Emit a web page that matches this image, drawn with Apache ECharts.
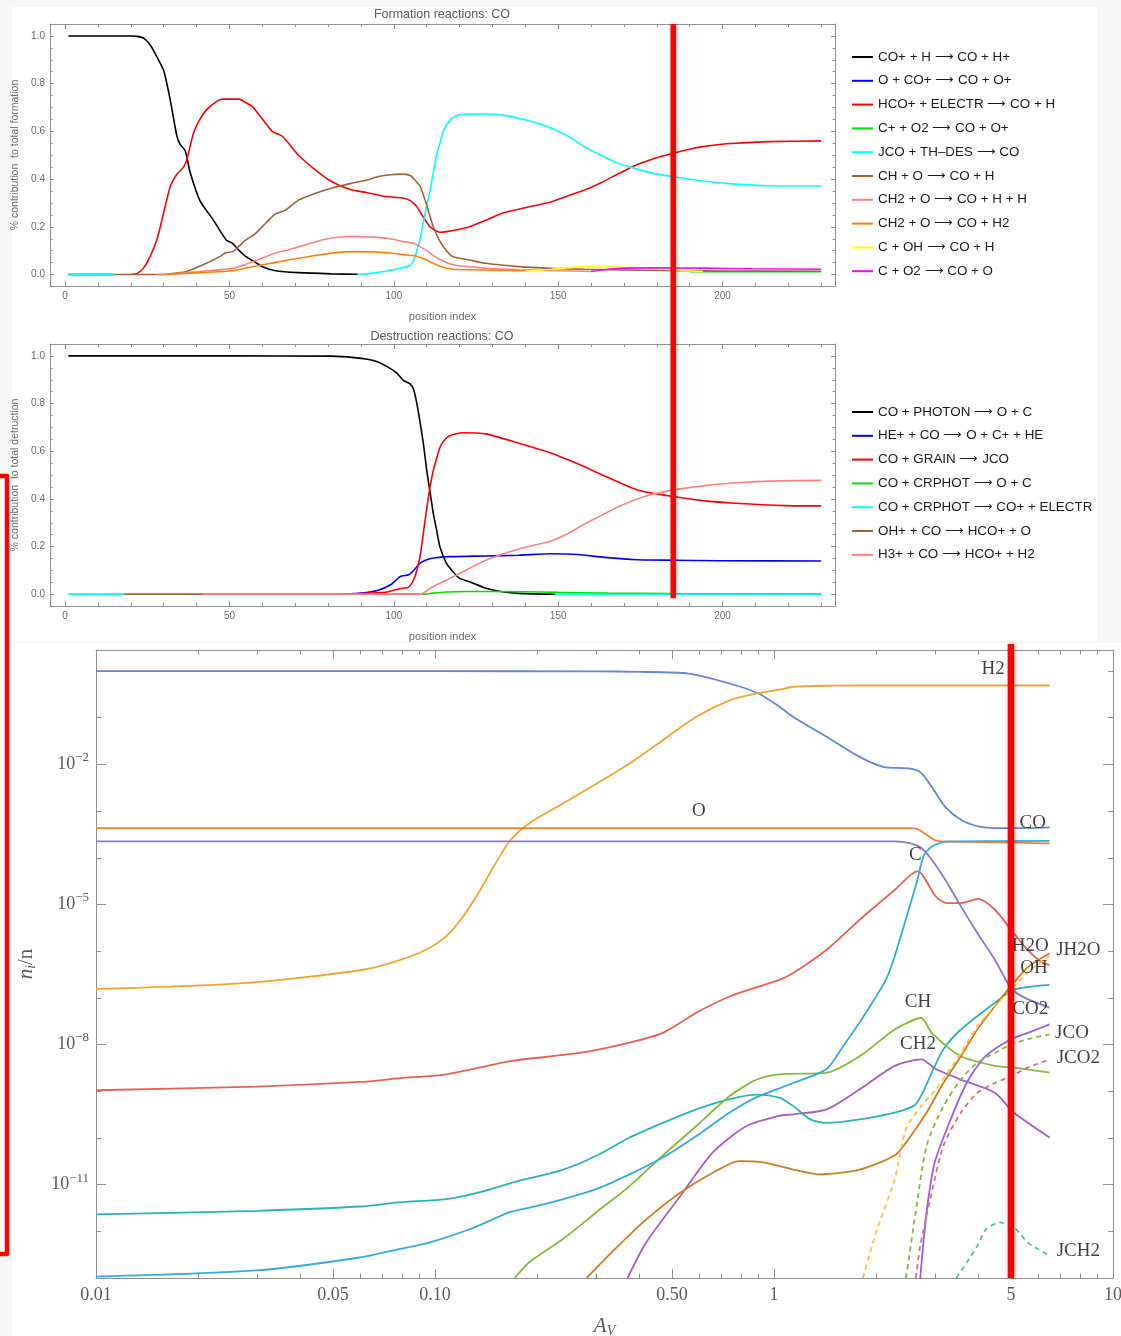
<!DOCTYPE html>
<html>
<head>
<meta charset="utf-8">
<script src="https://cdn.jsdelivr.net/npm/echarts@6/dist/echarts.min.js"></script>
<style>
html, body { margin: 0; padding: 0; background: #f7f7f7; }
#main { width: 1121px; height: 1336px; }
</style>
</head>
<body>
<div id="main"></div>
<script>
// ---------- formation reactions (position index, fraction) ----------
var fmNames = [
  'CO+ + H \u27F6 CO + H+', 'O + CO+ \u27F6 CO + O+', 'HCO+ + ELECTR \u27F6 CO + H',
  'C+ + O2 \u27F6 CO + O+', 'JCO + TH\u2013DES \u27F6 CO', 'CH + O \u27F6 CO + H',
  'CH2 + O \u27F6 CO + H + H', 'CH2 + O \u27F6 CO + H2', 'C + OH \u27F6 CO + H', 'C + O2 \u27F6 CO + O'
];
var fmBlack = [[1,1],[10,1],[20,1],[22,0.998],[24,0.99],[26,0.96],[28,0.91],[30,0.855],[32,0.73],[34,0.58],[35,0.545],[36.5,0.52],[38,0.43],[41,0.31],[45,0.23],[49,0.145],[51,0.13],[53,0.1],[55,0.075],[58,0.05],[60,0.033],[64,0.016],[71,0.008],[81,0.003],[89,0.001]];
var fmBlue = [[1,0],[15,0]];
var fmRed = [[20,0],[22,0.005],[24,0.03],[26,0.08],[28,0.15],[30,0.26],[32,0.37],[34,0.42],[36,0.45],[37,0.48],[39,0.59],[41,0.65],[43,0.69],[46,0.725],[48,0.735],[53,0.735],[55,0.72],[57,0.704],[59,0.67],[61,0.634],[63,0.6],[64.5,0.59],[66,0.58],[68,0.55],[71,0.5],[76,0.44],[81,0.39],[87,0.355],[92,0.343],[97,0.328],[103,0.32],[105,0.31],[107,0.284],[109,0.24],[111,0.2],[114,0.177],[116,0.18],[120,0.19],[123,0.2],[128,0.228],[133,0.257],[140,0.28],[148,0.305],[153,0.33],[158,0.354],[163,0.385],[168,0.42],[173,0.455],[179,0.485],[185,0.508],[190,0.525],[194,0.536],[199,0.545],[204,0.55],[214,0.557],[230,0.56]];
var fmGreen = [[1,0],[15,0],[16,null],[190,0.012],[230,0.012]];
var fmCyan = [[1,0],[15,0],[16,null],[89,0],[93,0.005],[97,0.013],[102,0.026],[105,0.04],[106,0.06],[107,0.1],[108,0.15],[109,0.22],[110,0.29],[111,0.35],[112,0.43],[113,0.5],[114,0.55],[115,0.6],[117,0.645],[119,0.665],[121,0.672],[128,0.673],[133,0.668],[138,0.655],[143,0.637],[148,0.613],[153,0.58],[158,0.536],[163,0.5],[168,0.468],[173,0.446],[179,0.424],[185,0.41],[194,0.392],[204,0.379],[214,0.372],[230,0.371]];
var fmBrown = [[15,0],[30,0],[33,0.005],[37,0.013],[43,0.047],[47,0.075],[49,0.092],[51,0.096],[53,0.12],[55,0.145],[58,0.173],[61,0.215],[64,0.254],[67,0.27],[71,0.312],[76,0.34],[81,0.362],[87,0.382],[92,0.396],[95,0.41],[99,0.418],[102,0.421],[105,0.415],[106.5,0.395],[108,0.37],[110,0.29],[112,0.2],[114,0.14],[116,0.1],[118,0.075],[123,0.061],[128,0.047],[138,0.033],[148,0.026],[158,0.022],[175,0.018],[200,0.015],[230,0.014]];
var fmPink = [[28,0],[33,0.003],[41,0.013],[51,0.026],[57,0.054],[61,0.075],[64,0.09],[68,0.104],[73,0.124],[78,0.145],[83,0.156],[88,0.16],[93,0.157],[98,0.152],[103,0.138],[106,0.131],[108,0.117],[110,0.1],[112,0.08],[114,0.063],[117,0.045],[120,0.037],[123,0.033],[128,0.026],[138,0.02],[150,0.016],[160,0.013]];
var fmOrange = [[31,0],[41,0.008],[51,0.016],[57,0.033],[64,0.051],[71,0.068],[77,0.082],[83,0.093],[88,0.096],[94,0.095],[99,0.09],[104,0.082],[107,0.077],[109,0.066],[111,0.054],[114,0.035],[118,0.022],[123,0.02],[130,0.018],[140,0.016]];
var fmYellow = [[140,0.014],[148,0.022],[153,0.028],[158,0.033],[168,0.031],[179,0.025],[187,0.018],[194,0.013]];
var fmMagenta = [[160,0.013],[164,0.02],[169,0.026],[179,0.028],[194,0.027],[209,0.024],[230,0.022]];

// ---------- destruction reactions ----------
var dsNames = [
  'CO + PHOTON \u27F6 O + C', 'HE+ + CO \u27F6 O + C+ + HE', 'CO + GRAIN \u27F6 JCO',
  'CO + CRPHOT \u27F6 O + C', 'CO + CRPHOT \u27F6 CO+ + ELECTR', 'OH+ + CO \u27F6 HCO+ + O',
  'H3+ + CO \u27F6 HCO+ + H2'
];
var dsBlack = [[1,1],[50,1],[81,0.999],[88,0.993],[92,0.986],[95,0.976],[98,0.955],[101,0.927],[103,0.896],[105,0.882],[106,0.86],[107,0.8],[108,0.72],[109,0.63],[110,0.52],[111,0.43],[112,0.34],[113,0.27],[114,0.2],[116,0.13],[118,0.095],[120,0.067],[123,0.053],[128,0.025],[133,0.011],[138,0.004],[149,0]];
var dsBlue = [[85,0],[90,0.005],[95,0.016],[99,0.04],[102,0.075],[104.5,0.082],[106,0.1],[108,0.131],[110,0.145],[112,0.152],[117,0.158],[128,0.161],[138,0.164],[148,0.17],[156,0.167],[164,0.155],[174,0.145],[185,0.143],[199,0.141],[230,0.14]];
var dsRed = [[85,0],[92,0.005],[98,0.01],[102,0.024],[104.5,0.03],[106,0.06],[107,0.1],[108,0.16],[109,0.26],[110,0.36],[111,0.45],[112,0.52],[113,0.57],[114,0.615],[115,0.64],[117,0.665],[121,0.678],[128,0.673],[138,0.634],[148,0.592],[153,0.564],[158,0.535],[164,0.497],[174,0.438],[185,0.41],[194,0.393],[204,0.382],[219,0.372],[230,0.371]];
var dsGreen = [[1,0],[108,0],[112,0.005],[116,0.01],[122,0.012],[140,0.011],[150,0.008],[165,0.005],[185,0.003],[230,0.002]];
var dsCyan = [[1,0],[18,0],[19,null],[149,0],[230,0]];
var dsBrown = [[18,0],[108,0]];
var dsPink = [[42,0],[108,0],[110,0.015],[112,0.033],[117,0.067],[122,0.102],[128,0.143],[138,0.19],[148,0.225],[153,0.255],[158,0.295],[163,0.33],[168,0.365],[173,0.395],[179,0.421],[185,0.438],[194,0.455],[204,0.468],[214,0.475],[230,0.478]];

var posMajor = [0, 50, 100, 150, 200];
var posMinor = [10, 20, 30, 40, 60, 70, 80, 90, 110, 120, 130, 140, 160, 170, 180, 190, 210, 220, 230];
var fracMajor = [0, 0.2, 0.4, 0.6, 0.8, 1.0];
var fracMinor = [0.05, 0.1, 0.15, 0.25, 0.3, 0.35, 0.45, 0.5, 0.55, 0.65, 0.7, 0.75, 0.85, 0.9, 0.95];
var cutPosition = 185;

// ---------- abundances n_i/n against A_V ----------
var avH   = [0.01, 0.1, 0.3, 0.4, 0.56, 0.74, 0.9, 1.04, 1.14, 1.43, 1.79, 2.1, 2.53, 2.72, 2.92, 3.2, 3.56, 4.0, 4.5, 5.0, 6.5];
var nH    = [0.99, 0.99, 0.985, 0.96, 0.88, 0.54, 0.33, 0.17, 0.104, 0.039, 0.0145, 8.9e-3, 8.1e-3, 6.5e-3, 3.3e-3, 1.23e-3, 6.5e-4, 4.7e-4, 4.3e-4, 4.3e-4, 4.5e-4];
var avH2  = [0.01, 0.028, 0.0615, 0.079, 0.094, 0.108, 0.121, 0.136, 0.149, 0.167, 0.19, 0.239, 0.30, 0.375, 0.47, 0.59, 0.74, 0.89, 1.04, 1.14, 1.5, 2.0, 6.5];
var nH2   = [1.55e-7, 2.1e-7, 4.0e-7, 6.5e-7, 1.07e-6, 2.1e-6, 5.5e-6, 2.04e-5, 6.5e-5, 2.4e-4, 5.5e-4, 1.47e-3, 3.9e-3, 0.0105, 0.033, 0.105, 0.235, 0.33, 0.40, 0.46, 0.485, 0.49, 0.49];
var avO   = [0.01, 2.5, 2.65, 2.77, 2.98, 3.3, 3.56, 6.5];
var nO    = [4.3e-4, 4.3e-4, 4.1e-4, 3.4e-4, 2.4e-4, 2.2e-4, 2.2e-4, 2.04e-4];
var avC   = [0.01, 2.27, 2.53, 2.72, 2.92, 3.2, 3.56, 3.98, 4.48, 5.0, 5.5, 6.5];
var nC    = [2.25e-4, 2.25e-4, 2.04e-4, 1.62e-4, 9.1e-5, 3.4e-5, 9.1e-6, 2.45e-6, 6.6e-7, 1.62e-7, 1.0e-7, 6.2e-8];
var avCO  = [0.01, 0.0298, 0.06, 0.079, 0.0967, 0.127, 0.167, 0.19, 0.239, 0.30, 0.375, 0.47, 0.59, 0.74, 0.89, 1.14, 1.43, 1.6, 1.79, 2.0, 2.14, 2.27, 2.48, 2.65, 2.76, 2.92, 3.24, 6.5];
var nCO   = [1.07e-13, 1.45e-13, 2.75e-13, 4.2e-13, 5.8e-13, 1.12e-12, 2.6e-12, 3.2e-12, 4.9e-12, 8.1e-12, 1.66e-11, 3.8e-11, 1.1e-10, 3.5e-10, 7.5e-10, 1.5e-9, 3.0e-9, 9.3e-9, 3.0e-8, 1.07e-7, 2.45e-7, 7.8e-7, 6.6e-6, 3.4e-5, 1.07e-4, 1.74e-4, 2.24e-4, 2.3e-4];
var avOH  = [0.01, 0.0298, 0.06, 0.079, 0.108, 0.17, 0.267, 0.375, 0.47, 0.59, 0.74, 0.91, 1.04, 1.14, 1.43, 1.79, 2.27, 2.65, 2.76, 3.0, 3.24, 3.56, 4.0, 4.48, 5.0, 5.6, 6.2, 6.5];
var nOH   = [1.05e-9, 1.26e-9, 1.58e-9, 1.9e-9, 2.3e-9, 4.5e-9, 6.6e-9, 1.1e-8, 1.78e-8, 4.8e-8, 1.07e-7, 1.78e-7, 2.45e-7, 3.4e-7, 1.07e-6, 4.7e-6, 2.04e-5, 5.1e-5, 4.0e-5, 1.48e-5, 1.07e-5, 1.07e-5, 1.32e-5, 7.8e-6, 2.9e-6, 1.07e-6, 5.6e-7, 5.1e-7];
var avCO2 = [0.01, 0.0298, 0.06, 0.079, 0.108, 0.135, 0.17, 0.239, 0.30, 0.375, 0.47, 0.59, 0.74, 0.89, 1.04, 1.14, 1.28, 1.43, 1.79, 2.27, 2.6, 2.76, 2.92, 3.16, 3.56, 4.48, 5.1, 6.5];
var nCO2  = [2.3e-12, 2.75e-12, 3.4e-12, 4.2e-12, 4.9e-12, 6.8e-12, 1.12e-11, 2.1e-11, 4.2e-11, 1.02e-10, 2.1e-10, 4.1e-10, 6.8e-10, 8.5e-10, 7.2e-10, 4.8e-10, 2.5e-10, 2.1e-10, 2.5e-10, 3.5e-10, 5.0e-10, 1.0e-9, 2.5e-9, 7.9e-9, 2.1e-8, 7.8e-8, 1.5e-7, 1.9e-7];
var avCH  = [0.172, 0.19, 0.239, 0.30, 0.375, 0.47, 0.59, 0.74, 0.89, 1.04, 1.43, 1.79, 2.27, 2.72, 2.92, 3.56, 4.48, 5.1, 6.5];
var nCH   = [1e-13, 2.2e-13, 6.9e-13, 2.6e-12, 9.3e-12, 4.2e-11, 1.8e-10, 7.9e-10, 1.78e-9, 2.3e-9, 2.5e-9, 5.6e-9, 2.1e-8, 3.7e-8, 1.78e-8, 5.6e-9, 3.5e-9, 3.2e-9, 2.5e-9];
var avCH2 = [0.37, 0.42, 0.53, 0.66, 0.83, 1.04, 1.14, 1.43, 1.79, 2.27, 2.72, 3.0, 3.56, 4.48, 5.1, 6.5];
var nCH2  = [1e-13, 5.8e-13, 5.8e-12, 4.9e-11, 1.8e-10, 3.0e-10, 3.2e-10, 4.1e-10, 1.1e-9, 3.5e-9, 4.8e-9, 3.0e-9, 1.78e-9, 9.3e-10, 3.5e-10, 1.02e-10];
var avH2O = [0.28, 0.34, 0.42, 0.53, 0.66, 0.79, 0.93, 1.14, 1.36, 1.79, 2.27, 2.45, 2.82, 3.16, 3.56, 3.98, 4.48, 5.0, 5.6, 6.5];
var nH2O  = [1e-13, 4.2e-13, 1.8e-12, 6.8e-12, 1.8e-11, 3.2e-11, 3.0e-11, 2.1e-11, 1.66e-11, 2.1e-11, 4.2e-11, 7.9e-11, 3.5e-10, 1.5e-9, 5.6e-9, 2.1e-8, 6.6e-8, 1.78e-7, 4.5e-7, 9e-7];
var avHCO = [2.7, 2.82, 2.98, 3.32, 3.7, 4.2, 5.0, 5.6, 6.5];
var nHCO  = [1e-13, 2.6e-12, 3.0e-11, 2.5e-10, 1.5e-9, 5.6e-9, 1.3e-8, 1.78e-8, 2.7e-8];
var avJCO = [2.45, 2.6, 2.82, 3.16, 3.56, 3.98, 4.48, 5.0, 5.6, 6.5];
var nJCO  = [1e-13, 1.8e-12, 6.8e-11, 4.8e-10, 1.78e-9, 4.1e-9, 6.6e-9, 1.0e-8, 1.3e-8, 1.66e-8];
var avJCO2 = [2.62, 2.7, 2.92, 3.16, 3.56, 3.98, 4.48, 5.0, 5.6, 6.5];
var nJCO2  = [1e-13, 4.9e-13, 6.8e-12, 6.8e-11, 3.5e-10, 9.3e-10, 1.5e-9, 2.1e-9, 3.2e-9, 4.8e-9];
var avJH2O = [1.83, 2.0, 2.27, 2.45, 2.72, 3.0, 3.56, 3.98, 4.48, 5.0, 5.6, 6.5];
var nJH2O  = [1e-13, 9.5e-13, 1.3e-11, 1.55e-10, 4.8e-10, 1.1e-9, 6.6e-9, 2.45e-8, 6.6e-8, 1.5e-7, 3.5e-7, 8e-7];
var avJCH2 = [3.45, 3.98, 4.22, 4.65, 5.1, 5.6, 6.5];
var nJCH2  = [1e-13, 4.9e-13, 1.1e-12, 1.55e-12, 1.23e-12, 5.8e-13, 3.0e-13];

var tagNames = ['H2', 'O', 'CO', 'C', 'H2O', 'JH2O', 'OH', 'CO2', 'CH', 'CH2', 'JCO', 'JCO2', 'JCH2'];
var tagAv    = [4.43, 0.60, 5.8, 2.61, 5.7, 7.9, 5.85, 5.7, 2.66, 2.66, 7.57, 7.9, 7.9];
var tagN     = [1.09, 1.0e-3, 5.6e-4, 1.15e-4, 1.26e-6, 1.07e-6, 4.3e-7, 5.9e-8, 8.3e-8, 1.05e-8, 1.74e-8, 5.1e-9, 3.8e-13];

var avTicks = [0.01, 0.05, 0.1, 0.5, 1, 5, 10];
var avTickLabels = ['0.01', '0.05', '0.10', '0.50', '1', '5', '10'];
var avMinorTicks = [0.02, 0.03, 0.04, 0.06, 0.07, 0.08, 0.09, 0.2, 0.3, 0.4, 0.6, 0.7, 0.8, 0.9, 2, 3, 4, 6, 7, 8, 9];
var expMajor = [-11, -8, -5, -2];
var expMinor = [-12, -10, -9, -7, -6, -4, -3, -1, 0];
var cutAv = 5;

var chart = echarts.init(document.getElementById('main'));
var sans = "'Liberation Sans', Arial, sans-serif";
var serif = "'Liberation Serif', 'Times New Roman', serif";
var frame = '#8e8e8e';

var xAxes = [], yAxes = [];
// four axes per side pair: main (ticks+labels+line), minor ticks, opposite main, opposite minor
function addFrame(list, dim, grid, lo, hi, major, minor, majLen, minLen, label, extra) {
  var sides = dim === 'x' ? ['bottom', 'top'] : ['left', 'right'];
  sides.forEach(function (side, k) {
    [[major, majLen], [minor, minLen]].forEach(function (t, m) {
      var ax = {
        type: 'value', gridIndex: grid, position: side, min: lo, max: hi, silent: true,
        axisLine: { show: m === 0, onZero: false, lineStyle: { color: frame, width: 1 } },
        axisTick: { show: true, inside: true, length: t[1], customValues: t[0], lineStyle: { color: frame, width: 1 } },
        axisLabel: { show: false },
        splitLine: { show: false }
      };
      if (k === 0 && m === 0) {
        ax.axisLabel = label;
        for (var key in extra) ax[key] = extra[key];
      }
      list.push(ax);
    });
  });
}

var topLabelX = { show: true, customValues: posMajor, color: '#6a6a6a', fontSize: 10, fontFamily: sans, margin: 5,
  formatter: function (v) { return String(Math.round(v)); } };
var topLabelY = { show: true, customValues: fracMajor, color: '#6a6a6a', fontSize: 10, fontFamily: sans, margin: 5,
  formatter: function (v) { return v.toFixed(1); } };
var topXName = { name: 'position index', nameLocation: 'middle', nameGap: 25,
  nameTextStyle: { fontSize: 11, color: '#6a6a6a', fontFamily: sans } };
function topYName(t) {
  return { name: t, nameLocation: 'middle', nameGap: 21, nameTextStyle: { fontSize: 10.5, color: '#6a6a6a', fontFamily: sans } };
}

addFrame(xAxes, 'x', 0, -4.6, 234.2, posMajor, posMinor, 5, 3, topLabelX, topXName);
addFrame(yAxes, 'y', 0, -0.048, 1.05, fracMajor, fracMinor, 4, 2.5, topLabelY, topYName('% contribution  to total formation'));
addFrame(xAxes, 'x', 1, -4.6, 234.2, posMajor, posMinor, 5, 3, topLabelX, topXName);
addFrame(yAxes, 'y', 1, -0.049, 1.05, fracMajor, fracMinor, 4, 2.5, topLabelY, topYName('% contribution  to total detruction'));

var lg = function (a) { return a.map(function (v) { return Math.log10(v); }); };
addFrame(xAxes, 'x', 2, -2, 1, lg(avTicks), lg(avMinorTicks), 9, 4.5, {
  show: true, customValues: lg(avTicks), color: '#5a5a5a', fontSize: 18, fontFamily: serif, margin: 8,
  formatter: function (v) {
    for (var i = 0; i < avTicks.length; i++) if (Math.abs(Math.log10(avTicks[i]) - v) < 1e-6) return avTickLabels[i];
    return '';
  }
}, {
  name: '{a|A}{v|V}', nameLocation: 'middle', nameGap: 37,
  nameTextStyle: { rich: {
    a: { fontFamily: serif, fontStyle: 'italic', fontSize: 21, color: '#5a5a5a' },
    v: { fontFamily: serif, fontStyle: 'italic', fontSize: 14, color: '#5a5a5a', padding: [9, 0, 0, 0] }
  } }
});
addFrame(yAxes, 'y', 2, -13, 0.45, expMajor, expMinor, 10, 5, {
  show: true, customValues: expMajor, margin: 7,
  formatter: function (v) { return '{b|10}{s|\u2212' + Math.round(-v) + '}'; },
  rich: {
    b: { fontFamily: serif, fontSize: 18, color: '#5a5a5a' },
    s: { fontFamily: serif, fontSize: 13, color: '#5a5a5a', padding: [0, 0, 13, 0] }
  }
}, {
  name: '{n|n}{i|i}{r|/n}', nameLocation: 'middle', nameGap: 58,
  nameTextStyle: { rich: {
    n: { fontFamily: serif, fontStyle: 'italic', fontSize: 21, color: '#5a5a5a' },
    i: { fontFamily: serif, fontStyle: 'italic', fontSize: 14, color: '#5a5a5a', padding: [9, 0, 0, 0] },
    r: { fontFamily: serif, fontSize: 21, color: '#5a5a5a' }
  } }
});

var series = [];
function topLine(grid, name, data, color) {
  series.push({
    name: name, type: 'line', xAxisIndex: grid * 4, yAxisIndex: grid * 4, data: data,
    symbol: 'none', smooth: 0.2, connectNulls: false,
    lineStyle: { width: 1.6, color: color }, itemStyle: { color: color }
  });
}
var fmData = [fmBlack, fmBlue, fmRed, fmGreen, fmCyan, fmBrown, fmPink, fmOrange, fmYellow, fmMagenta];
var fmColors = ['#000000', '#0000ff', '#ff0000', '#00e000', '#00ffff', '#996633', '#ff8080', '#ff8000', '#ffff00', '#ff00ff'];
fmData.forEach(function (d, i) { topLine(0, fmNames[i], d, fmColors[i]); });
var dsData = [dsBlack, dsBlue, dsRed, dsGreen, dsCyan, dsBrown, dsPink];
var dsColors = ['#000000', '#0000ff', '#ff0000', '#00e000', '#00ffff', '#996633', '#ff8080'];
dsData.forEach(function (d, i) { topLine(1, dsNames[i], d, dsColors[i]); });

function abLine(name, av, n, color, dashed) {
  series.push({
    name: name, type: 'line', xAxisIndex: 8, yAxisIndex: 8,
    data: av.map(function (a, i) { return [Math.log10(a), Math.log10(n[i])]; }),
    symbol: 'none', smooth: 0.25,
    lineStyle: { width: 1.8, color: color, type: dashed ? [5, 4] : 'solid' }, itemStyle: { color: color }
  });
}
abLine('H', avH, nH, '#6384dc');
abLine('H2', avH2, nH2, '#f4a42e');
abLine('O', avO, nO, '#f0803a');
abLine('C', avC, nC, '#8a74d4');
abLine('OH', avOH, nOH, '#e9604f');
abLine('CO2', avCO2, nCO2, '#27b4b8');
abLine('CH', avCH, nCH, '#84b93a');
abLine('CH2', avCH2, nCH2, '#a35ec6');
abLine('H2O', avH2O, nH2O, '#d07b1e');
abLine('CO', avCO, nCO, '#33abe2');
abLine('HCO', avHCO, nHCO, '#9560e6');
abLine('JH2O', avJH2O, nJH2O, '#fbc13d', true);
abLine('JCO', avJCO, nJCO, '#84b93a', true);
abLine('JCO2', avJCO2, nJCO2, '#e36b78', true);
abLine('JCH2', avJCH2, nJCH2, '#4cc4a2', true);

series.push({
  type: 'scatter', xAxisIndex: 8, yAxisIndex: 8, symbolSize: 1, silent: true, z: 5,
  itemStyle: { color: 'rgba(0,0,0,0)' },
  data: tagNames.map(function (t, i) { return { name: t, value: [Math.log10(tagAv[i]), Math.log10(tagN[i])] }; }),
  label: { show: true, position: 'inside', formatter: '{b}', color: '#111', fontFamily: serif, fontSize: 19 }
});

var legendBase = {
  orient: 'vertical', left: 852, itemWidth: 21, itemHeight: 2, itemGap: 9.8, icon: 'rect', padding: 0,
  selectedMode: false, textStyle: { fontSize: 13.4, lineHeight: 14, color: '#1a1a1a', fontFamily: sans }
};

var backdrop = [
  { type: 'rect', silent: true, z: -10, shape: { x: 12, y: 7, width: 1086, height: 634 }, style: { fill: '#ffffff' } },
  { type: 'rect', silent: true, z: -10, shape: { x: 12, y: 643, width: 1109, height: 693 }, style: { fill: '#ffffff' } },
  { type: 'rect', silent: true, z: -10, shape: { x: 0, y: 474, width: 12, height: 782 }, style: { fill: '#ffffff' } }
];

chart.setOption({
  backgroundColor: '#f7f7f7',
  animation: false,
  title: [
    { text: 'Formation reactions: CO', left: 442, top: 8, textAlign: 'center', padding: 0,
      textStyle: { fontSize: 12.5, fontWeight: 'normal', color: '#5a5a5a', fontFamily: sans } },
    { text: 'Destruction reactions: CO', left: 442, top: 330, textAlign: 'center', padding: 0,
      textStyle: { fontSize: 12.5, fontWeight: 'normal', color: '#5a5a5a', fontFamily: sans } }
  ],
  legend: [
    Object.assign({}, legendBase, { top: 50, data: fmNames }),
    Object.assign({}, legendBase, { top: 405, data: dsNames })
  ],
  grid: [
    { left: 50, top: 24, width: 785, height: 262, outerBoundsMode: 'none', containLabel: false },
    { left: 50, top: 344, width: 785, height: 262, outerBoundsMode: 'none', containLabel: false },
    { left: 96, top: 650, width: 1017, height: 628, outerBoundsMode: 'none', containLabel: false }
  ],
  xAxis: xAxes,
  yAxis: yAxes,
  series: series,
  graphic: backdrop
});

// red marker lines and bracket
var cx = chart.convertToPixel({ xAxisIndex: 0 }, cutPosition);
var cyTop = chart.convertToPixel({ yAxisIndex: 0 }, 1.05);
var cyBot = chart.convertToPixel({ yAxisIndex: 4 }, 0) + 4;
var bx = chart.convertToPixel({ xAxisIndex: 8 }, Math.log10(cutAv));
var byTop = chart.convertToPixel({ yAxisIndex: 8 }, 0.45) - 6;
var byBot = chart.convertToPixel({ yAxisIndex: 8 }, -13);
chart.setOption({
  graphic: backdrop.concat([
    { type: 'line', silent: true, z: 100, shape: { x1: cx, y1: cyTop, x2: cx, y2: cyBot },
      style: { stroke: '#ff0000', lineWidth: 5.5, shadowBlur: 4, shadowColor: 'rgba(0,0,0,0.3)', shadowOffsetX: 1 } },
    { type: 'line', silent: true, z: 100, shape: { x1: bx, y1: byTop, x2: bx, y2: byBot },
      style: { stroke: '#ff0000', lineWidth: 6.5, shadowBlur: 4, shadowColor: 'rgba(0,0,0,0.3)', shadowOffsetX: 1 } },
    { type: 'polyline', silent: true, z: 100, shape: { points: [[0, 476], [7, 476], [7, 1254], [0, 1254]] },
      style: { stroke: '#ff0000', lineWidth: 4.5, lineJoin: 'round', fill: null } }
  ])
});
</script>
</body>
</html>
